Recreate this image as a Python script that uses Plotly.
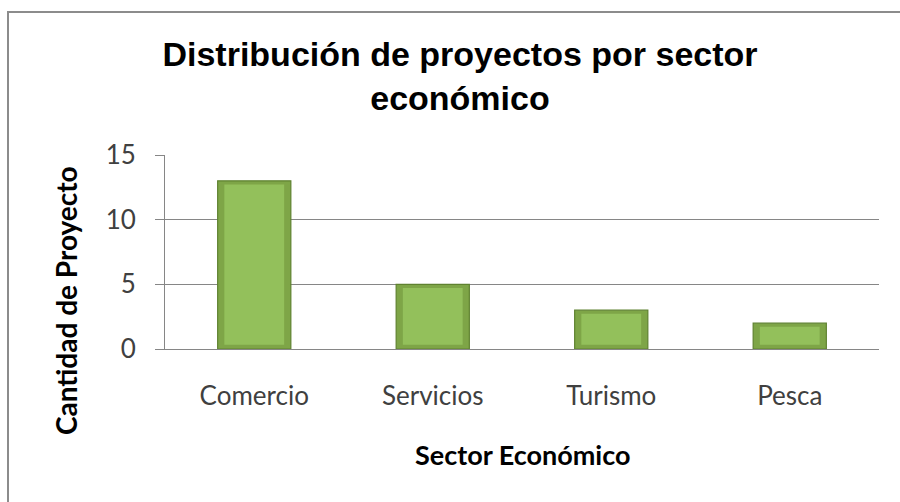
import plotly.graph_objects as go

# Data
sectores = ["Comercio", "Servicios", "Turismo", "Pesca"]
proyectos = [13, 5, 3, 2]
y_ticks = [0, 5, 10, 15]

W, H = 900, 502
# plot area in pixels
PL, PR, PT, PB = 165, 879, 155, 349

fig = go.Figure()

# main bar body (its darker rim forms the bevel edge)
fig.add_trace(go.Bar(
    x=sectores, y=proyectos,
    marker=dict(color="#7EA547", line=dict(color="#5F8230", width=1.2)),
    width=0.41, hoverinfo="x+y",
))
# lighter inner face to give the bars a bevelled look
fig.add_trace(go.Bar(
    x=sectores, y=[v - 0.6 for v in proyectos], base=[0.32] * len(proyectos),
    marker=dict(color="#93C05B", line=dict(width=0)),
    width=0.335, hoverinfo="skip",
))

fig.update_layout(
    width=W, height=H,
    barmode="overlay",
    showlegend=False,
    paper_bgcolor="white", plot_bgcolor="white",
    margin=dict(l=PL, r=W - PR, t=PT, b=H - PB, pad=0),
    font=dict(family="Lato, 'Liberation Sans', sans-serif", color="#404040"),
    title=dict(
        text="<b>Distribución de proyectos por sector<br>económico</b>",
        font=dict(family="'Liberation Sans', Arial, sans-serif", size=34, color="#000000"),
        x=460 / W, xanchor="center", xref="container",
        y=1 - 66 / H, yanchor="top", yref="container",
    ),
    xaxis=dict(
        showline=True, linecolor="#868686", linewidth=1,
        ticks="", tickfont=dict(size=26, color="#404040"),
        showgrid=False, ticklabelstandoff=24,
    ),
    yaxis=dict(
        range=[0, 15], tickvals=y_ticks,
        showline=True, linecolor="#868686", linewidth=1,
        ticks="outside", ticklen=9, tickcolor="#868686",
        tickfont=dict(size=26, color="#404040"),
        showgrid=True, gridcolor="#868686", gridwidth=1,
        zeroline=False, ticklabelstandoff=14,
    ),
    annotations=[
        dict(text="<b>Sector Económico</b>", xref="paper", yref="paper",
             x=0.5, y=(PB - 455) / (PB - PT),
             showarrow=False, font=dict(size=27, color="#000000"),
             xanchor="center", yanchor="middle"),
        dict(text="<b>Cantidad de Proyecto</b>", xref="paper", yref="paper",
             x=(66 - PL) / (PR - PL), y=(PB - 301) / (PB - PT),
             textangle=-90, showarrow=False, font=dict(size=28, color="#000000"),
             xanchor="center", yanchor="middle"),
    ],
    shapes=[
        dict(type="rect", xref="paper", yref="paper",
             x0=(8 - PL) / (PR - PL), x1=(W + 5 - PL) / (PR - PL),
             y0=(PB - (H + 5)) / (PB - PT), y1=(PB - 12) / (PB - PT),
             line=dict(color="#8C8C8C", width=2), layer="below"),
    ],
)

fig.write_html("out.html")
